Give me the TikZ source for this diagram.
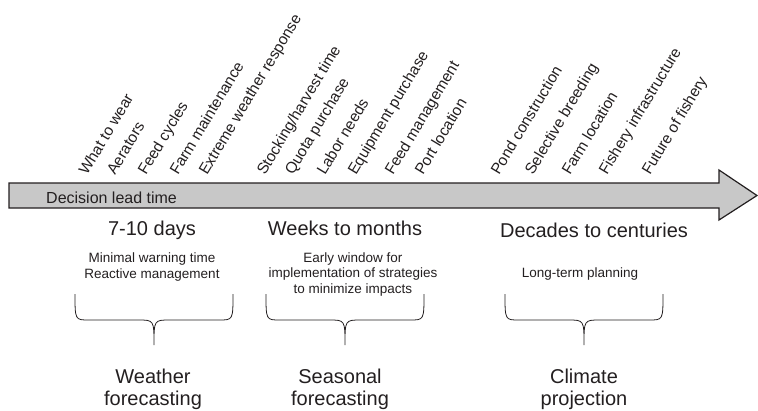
\documentclass[tikz,border=0pt]{standalone}
\usepackage{fontspec}
\setmainfont{Liberation Sans}
\usetikzlibrary{positioning}

\definecolor{inkgray}{HTML}{231F20}
\definecolor{barfill}{HTML}{C8C8C8}

\begin{document}
\begin{tikzpicture}[x=1pt, y=-1pt, every node/.style={text=inkgray, inner sep=0pt},
    choice/.style={anchor=base west, rotate=59, font=\fontsize{15.4}{18}\selectfont},
    span/.style={anchor=base, font=\fontsize{20}{22}\selectfont},
    remark/.style={anchor=base, align=center, font=\fontsize{13.5}{15.5}\selectfont},
    product/.style={anchor=base, align=center, font=\fontsize{20}{22}\selectfont},
    bracket/.style={draw=inkgray, line width=0.8pt}]
    % main sizes
    \def\barleft{9}
    \def\bartop{183}
    \def\barbot{208}
    \def\headx{719}
    \def\tipx{757}
    \def\braceTop{294}
    \def\braceLine{320}
    \def\braceTip{345}

    \useasboundingbox (0,0) rectangle (758,410);

    % lead time arrow
    \draw[inkgray, line width=1.2pt, fill=barfill]
        (\barleft, \bartop) -- (\headx, \bartop) -- (\headx, 170) --
        (\tipx, {(\bartop+\barbot)/2}) -- (\headx, 220) -- (\headx, \barbot) --
        (\barleft, \barbot) -- cycle;
    \node[anchor=base west, font=\fontsize{16}{19}\selectfont] (leadtime) at (46, 203) {Decision lead time};

    % decisions along the arrow
    \foreach \x/\txt [count=\i] in {
        87/What to wear, 115/Aerators, 146/Feed cycles, 178/Farm maintenance,
        207/Extreme weather response,
        265/Stocking\slash harvest time, 293/Quota purchase, 325/Labor needs,
        356/Equipment purchase, 393/Feed management, 423/Port location,
        499/Pond construction, 533/Selective breeding, 570/Farm location,
        607/Fishery infrastructure, 650/Future of fishery}
        \node[choice] (dec\i) at (\x, 176) {\txt};

    % time scales
    \node[span] (days) at (152, 235) {7-10 days};
    \node[span] (weeks) at (345, 235) {Weeks to months};
    \node[span] (decades) at (594, 237) {Decades to centuries};

    % remarks (base = last line)
    \node[remark] (weathernote) at (152, 278) {Minimal warning time\\Reactive management};
    \node[remark] (seasonnote) at (353, 293) {Early window for\\implementation of strategies\\to minimize impacts};
    \node[remark] (climatenote) at (580, 277) {Long-term planning};

    % braces
    \def\lowbrace#1#2#3{
        \draw[bracket] (#1, \braceTop) .. controls (#1, \braceLine) .. ({#1+14}, \braceLine)
            -- ({#2-16}, \braceLine) .. controls (#2, \braceLine) .. (#2, \braceTip)
            .. controls (#2, \braceLine) .. ({#2+16}, \braceLine)
            -- ({#3-14}, \braceLine) .. controls (#3, \braceLine) .. (#3, \braceTop);
    }
    \lowbrace{75}{154}{233}
    \lowbrace{266}{345}{424}
    \lowbrace{505}{584}{663}

    % forecast products
    \node[product] (weather) at (153, 405) {Weather\\forecasting};
    \node[product] (seasonal) at (340, 405) {Seasonal\\forecasting};
    \node[product] (climate) at (584, 405) {Climate\\projection};

\end{tikzpicture}
\end{document}
